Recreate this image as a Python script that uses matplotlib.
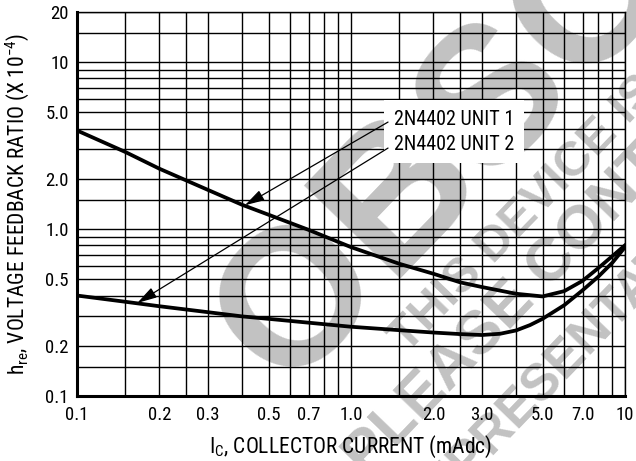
import matplotlib
matplotlib.use('Agg')
import matplotlib.pyplot as plt
import numpy as np
from matplotlib.ticker import NullFormatter
from matplotlib import font_manager as fm

# ---------------- data ----------------
ic_unit1 = [0.1, 0.15, 0.2, 0.3, 0.4, 0.5, 0.7, 1.0, 1.5, 2.0, 2.5, 3.0, 4.0, 5.0, 6.0, 7.0, 8.0, 9.0, 10.0]
hre_unit1 = [3.9, 2.9, 2.3, 1.72, 1.4, 1.22, 0.99, 0.78, 0.62, 0.54, 0.48, 0.45, 0.41, 0.395, 0.425, 0.49, 0.585, 0.69, 0.80]

ic_unit2 = [0.1, 0.15, 0.2, 0.3, 0.4, 0.5, 0.7, 1.0, 1.5, 2.0, 2.5, 3.0, 3.5, 4.0, 4.5, 5.0, 6.0, 7.0, 8.0, 9.0, 10.0]
hre_unit2 = [0.40, 0.367, 0.345, 0.318, 0.30, 0.29, 0.275, 0.26, 0.248, 0.24, 0.235, 0.232, 0.236, 0.247, 0.266, 0.29, 0.35, 0.43, 0.52, 0.63, 0.78]

x_tick_values = [0.1, 0.2, 0.3, 0.5, 0.7, 1.0, 2.0, 3.0, 5.0, 7.0, 10.0]
x_tick_labels = ['0.1', '0.2', '0.3', '0.5', '0.7', '1.0', '2.0', '3.0', '5.0', '7.0', '10']
y_tick_values = [0.1, 0.2, 0.5, 1.0, 2.0, 5.0, 10.0, 20.0]
y_tick_labels = ['0.1', '0.2', '0.5', '1.0', '2.0', '5.0', '10', '20']

x_grid = [0.15, 0.2, 0.25, 0.3, 0.4, 0.5, 0.6, 0.7, 0.8, 0.9, 1.0,
          1.5, 2.0, 2.5, 3.0, 4.0, 5.0, 6.0, 7.0, 8.0, 9.0]
y_grid = [0.15, 0.2, 0.3, 0.4, 0.5, 0.6, 0.7, 0.8, 0.9, 1.0,
          1.5, 2.0, 3.0, 4.0, 5.0, 6.0, 7.0, 8.0, 9.0, 10.0, 15.0]

series_labels = ['2N4402 UNIT 1', '2N4402 UNIT 2']
x_label = r'$\mathregular{I_C}$, COLLECTOR CURRENT (mAdc)'
y_label = r'$\mathregular{h_{re}}$, VOLTAGE FEEDBACK RATIO (X 10$^{\mathregular{-4}}$)'

watermark_big = 'OBSOLETE'
watermark_lines = ['THIS DEVICE IS', 'PLEASE CONTACT YOUR', 'REPRESENTATIVE']

# ---------------- font choice (condensed sans) ----------------
available = {f.name for f in fm.fontManager.ttflist}
preferred = ['Roboto Condensed', 'Liberation Sans Narrow', 'Archivo Narrow', 'PT Sans Narrow',
             'Fira Sans Condensed', 'Barlow Condensed']
family = next((n for n in preferred if n in available), None)
if family is None:
    family, scale = 'Liberation Sans', 0.83
else:
    scale = 1.0

plt.rcParams['font.family'] = [family, 'Liberation Sans', 'DejaVu Sans']
plt.rcParams['mathtext.fontset'] = 'custom'
plt.rcParams['mathtext.rm'] = family
plt.rcParams['mathtext.it'] = family
plt.rcParams['mathtext.bf'] = family + ':bold'

W, H = 636, 461
fig = plt.figure(figsize=(W / 100, H / 100), dpi=100)
fig.patch.set_facecolor('white')

# ---------------- watermark (behind everything) ----------------
ang = 46.0
th = np.deg2rad(ang)
cs, sn = np.cos(th), np.sin(th)
WM_COLOR = '#c2c2c2'


def watermark(text, t0, nbase, size):
    x = t0 * cs + nbase * sn
    y = -t0 * sn + nbase * cs
    fig.text(x / W, 1 - y / H, text, rotation=ang, rotation_mode='anchor',
             ha='left', va='baseline', fontsize=size, fontweight='bold',
             family='Liberation Sans', color=WM_COLOR, zorder=-5)


watermark(watermark_big, -83, 476, 140)
watermark(watermark_lines[0], 28, 539, 35)
watermark(watermark_lines[1], -90, 596, 44)
watermark(watermark_lines[2], -91, 670, 37)

# ---------------- axes ----------------
ax = fig.add_axes([77 / W, 1 - 396 / H, 548 / W, 384 / H])
ax.set_facecolor('none')
ax.set_xscale('log')
ax.set_yscale('log')
ax.set_xlim(0.1, 10)
ax.set_ylim(0.1, 20)

ax.set_xticks(x_tick_values, x_tick_labels)
ax.set_yticks(y_tick_values, y_tick_labels)
ax.set_xticks(x_grid, minor=True)
ax.set_yticks(y_grid, minor=True)
ax.xaxis.set_minor_formatter(NullFormatter())
ax.yaxis.set_minor_formatter(NullFormatter())

ax.grid(which='both', color='black', linewidth=1.0)
ax.set_axisbelow(True)
ax.tick_params(which='both', length=0, labelsize=13.5 * scale, colors='black')
ax.tick_params(axis='x', pad=7)
ax.tick_params(axis='y', pad=6)

for side in ['left', 'bottom']:
    ax.spines[side].set_linewidth(2.2)
for side in ['top', 'right']:
    ax.spines[side].set_linewidth(1.0)

ax.set_xlabel(x_label, fontsize=15.5 * scale, labelpad=7)
ax.set_ylabel(y_label, fontsize=15.5 * scale, labelpad=10)

# ---------------- curves ----------------
ax.plot(ic_unit1, hre_unit1, color='black', lw=2.7, solid_joinstyle='round', zorder=4)
ax.plot(ic_unit2, hre_unit2, color='black', lw=2.7, solid_joinstyle='round', zorder=4)

# ---------------- labels with arrows ----------------
ax.text(1.435, 3.82, series_labels[0] + '\n' + series_labels[1], fontsize=14.5 * scale,
        ha='left', va='center', linespacing=1.38,
        bbox=dict(facecolor='white', edgecolor='none', pad=7), zorder=5)

arrow_kw = dict(arrowstyle='-|>,head_length=0.6,head_width=0.17', color='black',
                lw=0.9, shrinkA=0, shrinkB=0, mutation_scale=20)
ax.annotate('', xy=(0.41, 1.39), xytext=(1.365, 4.38), arrowprops=arrow_kw, zorder=6)
ax.annotate('', xy=(0.166, 0.361), xytext=(1.365, 3.06), arrowprops=arrow_kw, zorder=6)

fig.savefig('out.png', dpi=100)
